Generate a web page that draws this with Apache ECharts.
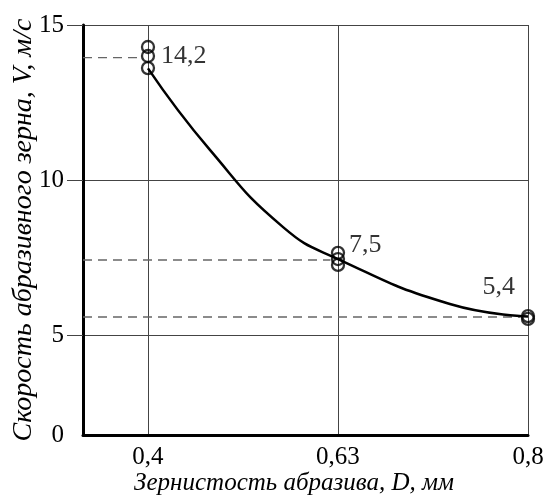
<!DOCTYPE html>
<html>
<head>
<meta charset="utf-8">
<script src="https://cdn.jsdelivr.net/npm/echarts@6/dist/echarts.min.js"></script>
<style>
  html, body { margin: 0; padding: 0; background: #fff; }
  #chart { width: 544px; height: 502px; }
</style>
</head>
<body>
<div id="chart"></div>
<script>
// x categories are drawn evenly spaced: index 0, 1, 2
const xLabels = ['0,4', '0,63', '0,8']
const xTickIdx = [0, 1, 2]
// y axis is broken: "0" sits at the bottom edge
const Y_MIN = 1.774
const yTickValues = [5, 10, 15]
const yLabelValues = [Y_MIN, 5, 10, 15]
const yLabels = ['0', '5', '10', '15']

// measured points (several per grain size)
const pts04 = [14.29, 14.0, 13.61]
const pts063 = [7.65, 7.45, 7.26]
const pts08 = [5.61, 5.52]

// fitted curve: [x index, V]
const curve = [
  [0, 13.6], [0.326, 10.97], [0.711, 8.48], [1.0, 7.45], [1.589, 6.0], [2, 5.6]
]

// dashed guide levels and where they stop
const guideY = [13.95, 7.42, 5.58]
const guideEnd = [-0.026, 0.96, 1.96]

// value labels
const noteText = ['14,2', '7,5', '5,4']
const noteAt = [[0, 14.0], [1, 7.45], [2, 5.58]]

const X_MIN = -0.342
const FONT = "'Liberation Serif', 'Times New Roman', serif"

const myChart = echarts.init(document.getElementById('chart'))

const scatterData = []
pts04.forEach(v => scatterData.push([0, v]))
pts063.forEach(v => scatterData.push([1, v]))
pts08.forEach(v => scatterData.push([2, v]))

const guideSeries = guideY.map((y, i) => ({
  type: 'line',
  silent: true,
  symbol: 'none',
  data: [[X_MIN, y], [guideEnd[i], y]],
  lineStyle: { color: '#666', width: 1.3, type: [9, 6] },
  z: 1
}))

const noteOffsets = [[8, 0], [6, -14], [-8, -30]]
const notePos = ['right', 'right', 'left']

const option = {
  animation: false,
  grid: { left: 83, right: 16, top: 25, bottom: 67, outerBoundsMode: 'none' },
  xAxis: {
    type: 'value',
    min: X_MIN,
    max: 2,
    name: 'Зернистость абразива, D, мм',
    nameLocation: 'middle',
    nameMoveOverlap: false,
    nameGap: 36,
    nameTextStyle: { fontFamily: FONT, fontStyle: 'italic', fontSize: 25, color: '#000', padding: [0, 23, 0, 0] },
    axisLine: { onZero: false, lineStyle: { color: '#000', width: 3 } },
    axisTick: { show: false, customValues: xTickIdx },
    axisLabel: {
      customValues: xTickIdx,
      formatter: v => xLabels[Math.round(v)],
      fontFamily: FONT, fontSize: 25, color: '#000', margin: 10
    },
    splitLine: { show: true, lineStyle: { color: '#444', width: 1 } }
  },
  yAxis: {
    type: 'value',
    min: Y_MIN,
    max: 15,
    name: 'Скорость абразивного зерна, V, м/с',
    nameLocation: 'middle',
    nameMoveOverlap: false,
    nameGap: 45,
    nameTextStyle: { fontFamily: FONT, fontStyle: 'italic', fontSize: 28, color: '#000' },
    axisLine: { onZero: false, lineStyle: { color: '#000', width: 3 } },
    axisTick: { show: true, inside: false, length: 16, customValues: yTickValues, lineStyle: { color: '#444', width: 1 } },
    axisLabel: {
      customValues: yLabelValues,
      formatter: v => {
        const i = yLabelValues.findIndex(t => Math.abs(t - v) < 1e-6)
        return i >= 0 ? yLabels[i] : ''
      },
      fontFamily: FONT, fontSize: 25, color: '#000', margin: 19
    },
    splitLine: { show: true, lineStyle: { color: '#444', width: 1 } }
  },
  series: [
    ...guideSeries,
    {
      type: 'line',
      silent: true,
      smooth: 0.5,
      symbol: 'none',
      data: curve,
      lineStyle: { color: '#000', width: 2.5 },
      z: 3
    },
    {
      type: 'scatter',
      symbol: 'circle',
      symbolSize: 12,
      data: scatterData,
      itemStyle: { color: 'transparent', borderColor: '#000', borderWidth: 2.3 },
      z: 4
    },
    {
      type: 'scatter',
      symbolSize: 0,
      silent: true,
      data: noteAt.map((p, i) => ({
        value: p,
        label: {
          show: true,
          formatter: noteText[i],
          position: notePos[i],
          offset: noteOffsets[i],
          fontFamily: FONT,
          fontSize: 26,
          color: '#000'
        }
      })),
      z: 5
    }
  ]
}

myChart.setOption(option)
</script>
</body>
</html>
